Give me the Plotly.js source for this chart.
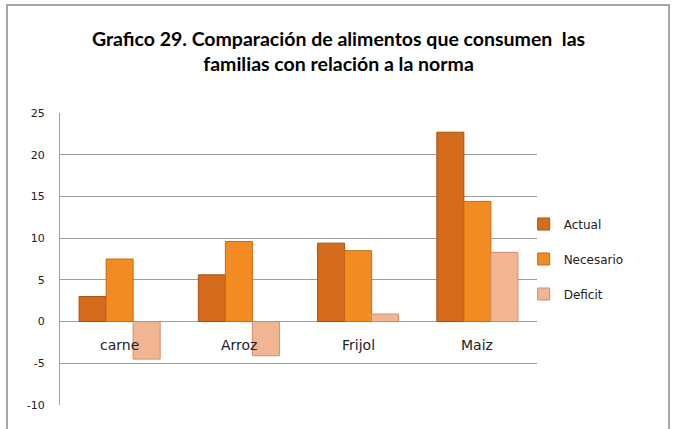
<!DOCTYPE html>
<html>
<head>
<meta charset="utf-8">
<script src="https://cdn.plot.ly/plotly-3.0.1.min.js"></script>
<style>
html,body{margin:0;padding:0;background:#fff;overflow:hidden;}
#wrap{position:relative;width:677px;height:429px;}
#chart{position:absolute;left:0;top:0;width:677px;height:429px;}
#frame{position:absolute;left:6px;top:4px;width:664px;height:440px;border:2px solid #a6a6a6;box-sizing:border-box;pointer-events:none;}
</style>
</head>
<body>
<div id="wrap"><div id="chart"></div><div id="frame"></div></div>
<script>
const categories = ["carne", "Arroz", "Frijol", "Maiz"];
const actual = [3.0, 5.6, 9.4, 22.7];
const necesario = [7.5, 9.6, 8.5, 14.4];
const deficit = [-4.5, -4.1, 0.9, 8.3];
const seriesNames = ["Actual", "Necesario", "Deficit"];
const yTicks = [-10, -5, 0, 5, 10, 15, 20, 25];
const titleText = "Grafico 29. Comparación de alimentos que consumen  las<br>familias con relación a la norma";

const colors = ["#D46A1C", "#F28B22", "#F2B594"];
const lineColors = ["#A9520F", "#C86C12", "#C98E70"];
const series = [actual, necesario, deficit];

const traces = series.map((vals, i) => ({
  type: "bar",
  name: seriesNames[i],
  x: categories,
  y: vals,
  legendgroup: "g" + i,
  marker: {color: colors[i], line: {color: lineColors[i], width: 1}},
  hoverinfo: "skip"
}));

const annotations = categories.map(c => ({
  x: c, y: 0, xref: "x", yref: "y",
  text: c, showarrow: false,
  yanchor: "top", yshift: -13,
  font: {family: "DejaVu Sans", size: 14, color: "#222"}
}));

const layout = {
  width: 677, height: 429,
  margin: {l: 60, r: 140, t: 113, b: 24},
  paper_bgcolor: "#fff", plot_bgcolor: "#fff",
  title: {
    text: titleText,
    x: 0.5, xref: "container", xanchor: "center",
    y: 1 - 46/429, yref: "container", yanchor: "top",
    font: {family: "Lato", size: 19.5, color: "#000", weight: "bold"}
  },
  barmode: "group",
  bargap: 0.32,
  bargroupgap: 0,
  xaxis: {
    showticklabels: false, showgrid: false, zeroline: false,
    showline: false, ticks: ""
  },
  yaxis: {
    range: [-10, 25], tickvals: yTicks, ticktext: yTicks.map(String),
    showgrid: true, gridcolor: "#a0a0a0", gridwidth: 1,
    zeroline: true, zerolinecolor: "#a0a0a0", zerolinewidth: 1,
    showline: true, linecolor: "#a0a0a0", linewidth: 1,
    ticks: "", ticklen: 0,
    tickfont: {family: "DejaVu Sans", size: 11, color: "#222"},
    ticklabelstandoff: 12
  },
  showlegend: true,
  legend: {
    x: 0.972, xanchor: "left", y: 0.5, yanchor: "middle",
    traceorder: "grouped", tracegroupgap: 16,
    font: {family: "DejaVu Sans", size: 12, color: "#222"},
    itemwidth: 30, bgcolor: "rgba(0,0,0,0)"
  },
  annotations: annotations
};

Plotly.newPlot("chart", traces, layout, {displayModeBar: false, staticPlot: true});
</script>
</body>
</html>
